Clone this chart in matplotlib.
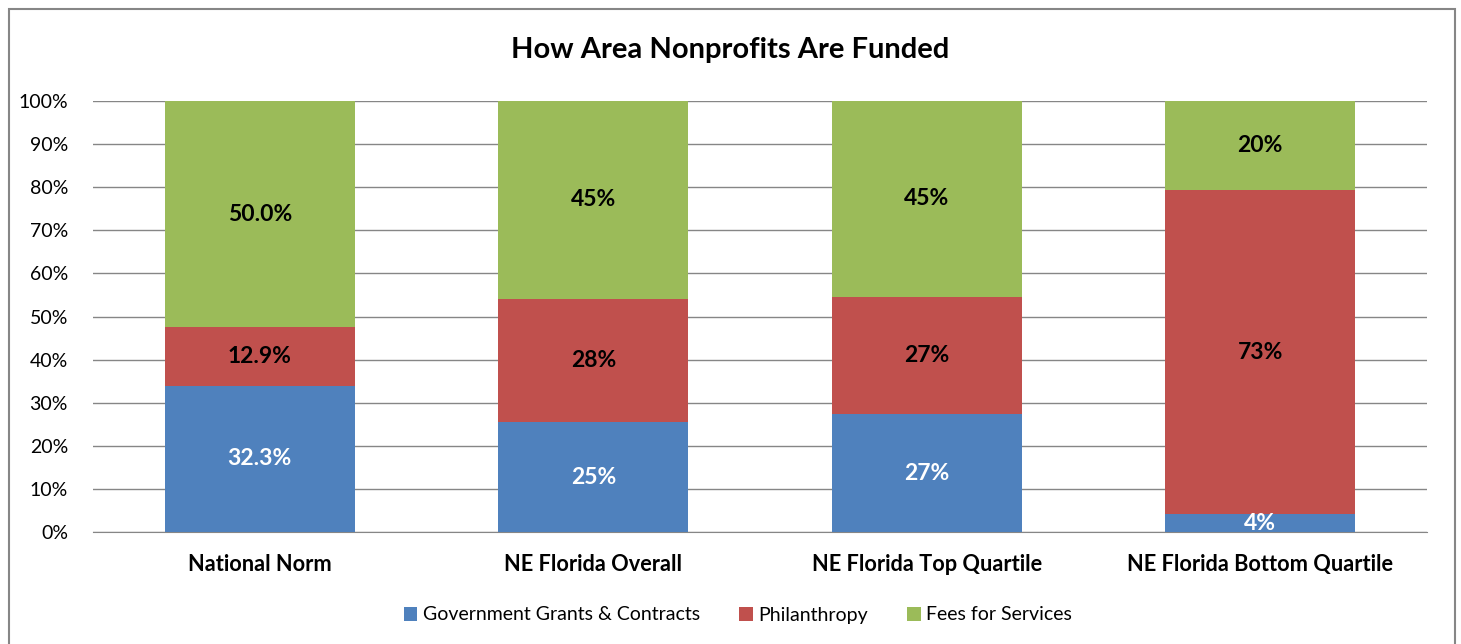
import matplotlib.pyplot as plt
import matplotlib.patches as mpatches
import numpy as np

plt.rcParams['font.family'] = ['Lato', 'DejaVu Sans']

categories = ['National Norm', 'NE Florida Overall', 'NE Florida Top Quartile', 'NE Florida Bottom Quartile']
series_names = ['Government Grants & Contracts', 'Philanthropy', 'Fees for Services']
government = [32.3, 25, 27, 4]
philanthropy = [12.9, 28, 27, 73]
fees = [50.0, 45, 45, 20]
label_text = [['32.3%', '25%', '27%', '4%'],
              ['12.9%', '28%', '27%', '73%'],
              ['50.0%', '45%', '45%', '20%']]
colors = ['#4F81BD', '#C0504D', '#9BBB59']
text_colors = ['white', 'black', 'black']

raw = np.array([government, philanthropy, fees], dtype=float)
share = raw / raw.sum(axis=0) * 100  # 100% stacked

fig = plt.figure(figsize=(14.61, 6.44), dpi=100)
ax = fig.add_axes([93/1461, 112/644, 1334/1461, 431/644])

x = np.arange(len(categories))
bottom = np.zeros(len(categories))
for i in range(3):
    ax.bar(x, share[i], 0.57, bottom=bottom, color=colors[i], label=series_names[i], zorder=3)
    for j in range(len(categories)):
        ax.text(x[j], bottom[j] + share[i][j] / 2, label_text[i][j], ha='center', va='center',
                fontsize=16.5, fontweight='bold', color=text_colors[i], zorder=4)
    bottom += share[i]

ax.set_xlim(-0.5, len(categories) - 0.5)
ax.set_ylim(0, 100)
ax.set_yticks(np.arange(0, 101, 10))
ax.set_yticklabels([f'{v}%' for v in range(0, 101, 10)], fontsize=14)
ax.set_xticks(x)
ax.set_xticklabels(categories, fontsize=15.7, fontweight='bold')
ax.tick_params(axis='y', length=0, pad=18)
ax.tick_params(axis='x', length=0, pad=16)
ax.grid(axis='y', color='#868686', lw=1, zorder=0)
for s in ['top', 'right', 'left']:
    ax.spines[s].set_visible(False)
ax.spines['bottom'].set_color('#868686')

fig.text(0.5, 1 - 50/644, 'How Area Nonprofits Are Funded', ha='center', va='center',
         fontsize=21, fontweight='bold')
fig.legend(loc='center', bbox_to_anchor=(738/1461, 1 - 615/644), ncol=3, frameon=False,
           fontsize=14, handlelength=0.7, handleheight=0.7, columnspacing=2.0,
           handletextpad=0.3, borderaxespad=0, borderpad=0)

fig.patches.append(mpatches.Rectangle((9/1461, -0.01), 1446/1461, 1 - 9/644 + 0.01,
                                      transform=fig.transFigure, fill=False,
                                      edgecolor='#868686', lw=1.5))

fig.savefig('out.png', dpi=100)
